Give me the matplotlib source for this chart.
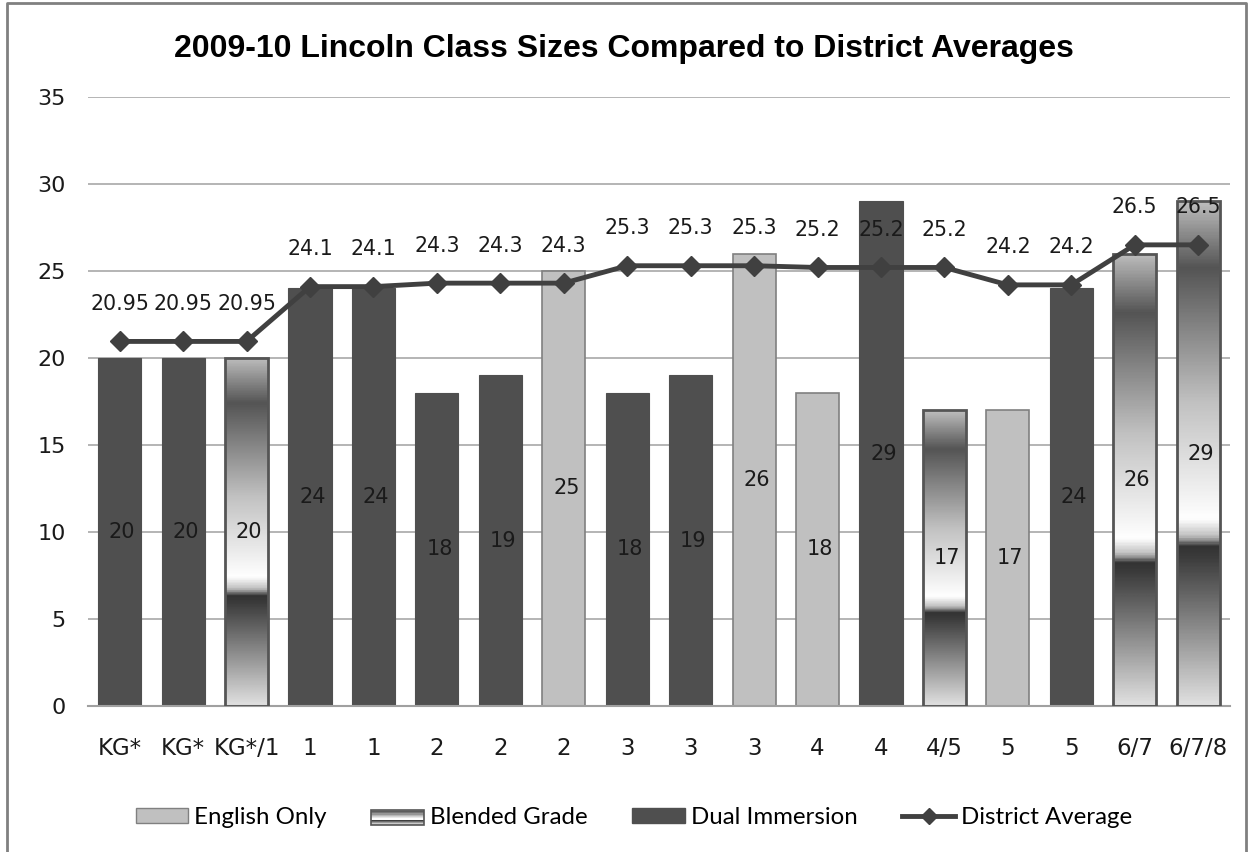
import matplotlib
matplotlib.use("Agg")
import matplotlib.pyplot as plt
import numpy as np
from matplotlib.patches import Rectangle, Patch
from matplotlib.lines import Line2D
from matplotlib.legend_handler import HandlerBase
from matplotlib.colors import LinearSegmentedColormap

# data
grades = ["KG*", "KG*", "KG*/1", "1", "1", "2", "2", "2", "3", "3", "3",
          "4", "4", "4/5", "5", "5", "6/7", "6/7/8"]
class_size = [20, 20, 20, 24, 24, 18, 19, 25, 18, 19, 26, 18, 29, 17, 17, 24, 26, 29]
program = ["D", "D", "B", "D", "D", "D", "D", "E", "D", "D", "E",
           "E", "D", "B", "E", "D", "B", "B"]
district_avg = [20.95, 20.95, 20.95, 24.1, 24.1, 24.3, 24.3, 24.3, 25.3, 25.3, 25.3,
                25.2, 25.2, 25.2, 24.2, 24.2, 26.5, 26.5]
district_lbl = ["20.95", "20.95", "20.95", "24.1", "24.1", "24.3", "24.3", "24.3",
                "25.3", "25.3", "25.3", "25.2", "25.2", "25.2", "24.2", "24.2",
                "26.5", "26.5"]

plt.rcParams["font.family"] = ["DejaVu Sans"]

DARK = "#4f4f4f"
LIGHT = "#c0c0c0"
LINE = "#404040"

# gradient used by blended-grade bars (bottom -> top)
stops = [(0.0, 0.88), (0.30, 0.22), (0.315, 0.2), (0.335, 0.75), (0.37, 1.0),
         (0.60, 0.76), (0.87, 0.33), (1.0, 0.74)]
grad_cmap = LinearSegmentedColormap.from_list(
    "blend", [(p, (g, g, g)) for p, g in stops])

fig = plt.figure(figsize=(12.48, 8.52), dpi=100)
ax = fig.add_axes([0.0705, 0.1714, 0.915, 0.7148])

x = np.arange(len(grades))
w = 0.68
grad = np.linspace(0, 1, 400).reshape(-1, 1)

for xi, h, p in zip(x, class_size, program):
    if p == "D":
        ax.bar(xi, h, w, color=DARK, edgecolor=DARK, linewidth=0.8, zorder=2)
    elif p == "E":
        ax.bar(xi, h, w, color=LIGHT, edgecolor="#808080", linewidth=1.2, zorder=2)
    else:
        b = ax.bar(xi, h, w, color="none", edgecolor="#555555", linewidth=2.0, zorder=3)[0]
        im = ax.imshow(grad, cmap=grad_cmap, vmin=0, vmax=1, origin="lower",
                       extent=[xi - w / 2, xi + w / 2, 0, h], aspect="auto",
                       zorder=2, interpolation="bilinear")
        im.set_clip_path(b)
    ax.text(xi + 0.04, h / 2, str(h), ha="center", va="center", fontsize=15,
            color="#1a1a1a", zorder=5)

ax.plot(x, district_avg, color=LINE, linewidth=3.5, marker="D", markersize=10,
        zorder=4)
for xi, v, s in zip(x, district_avg, district_lbl):
    ax.annotate(s, (xi, v), xytext=(0, 27), textcoords="offset points",
                ha="center", va="center", fontsize=14.8, color="#1a1a1a", zorder=5)

ax.set_xlim(-0.5, len(grades) - 0.5)
ax.set_ylim(0, 35)
ax.set_yticks(np.arange(0, 36, 5))
ax.set_xticks(x)
ax.set_xticklabels(grades)
ax.tick_params(axis="both", length=0, labelsize=16, colors="#1a1a1a")
ax.tick_params(axis="x", labelsize=16.5, pad=22)
ax.tick_params(axis="y", pad=16)
ax.yaxis.grid(True, color="#a8a8a8", linewidth=1.2)
ax.set_axisbelow(True)
for s in ["left", "right", "top"]:
    ax.spines[s].set_visible(False)
ax.spines["bottom"].set_color("#a0a0a0")
ax.spines["bottom"].set_linewidth(1.5)

fig.text(0.5, 0.943, "2009-10 Lincoln Class Sizes Compared to District Averages",
         ha="center", va="center", fontsize=23, fontweight="bold",
         family="Liberation Sans")

# outer frame (left, top, right)
fig.add_artist(Line2D([0.006, 0.006, 0.9985, 0.9985], [0.0, 0.996, 0.996, 0.0],
                      transform=fig.transFigure, color="#808080", linewidth=2))


class BlendHandler(HandlerBase):
    def create_artists(self, legend, orig_handle, xd, yd, width, height, fontsize, trans):
        arts = []
        n = 12
        for i in range(n):
            g = grad_cmap((i + 0.5) / n)
            arts.append(Rectangle((xd, yd + height * i / n), width, height / n,
                                  facecolor=g, edgecolor="none", transform=trans))
        arts.append(Rectangle((xd, yd), width, height, facecolor="none",
                              edgecolor="#555555", linewidth=1.2, transform=trans))
        return arts


blend_handle = Patch(label="Blended Grade")
handles = [Patch(facecolor=LIGHT, edgecolor="#808080", label="English Only"),
           blend_handle,
           Patch(facecolor=DARK, edgecolor=DARK, label="Dual Immersion"),
           Line2D([], [], color=LINE, linewidth=3.5, marker="D", markersize=8,
                  label="District Average")]
fig.legend(handles=handles, loc="center", bbox_to_anchor=(0.508, 0.041), ncol=4,
           frameon=False, prop={"family": "Lato", "size": 17.3},
           handlelength=2.2, handleheight=0.58, handletextpad=0.25, columnspacing=1.85,
           handler_map={blend_handle: BlendHandler()})

fig.savefig("out.png", dpi=100)
